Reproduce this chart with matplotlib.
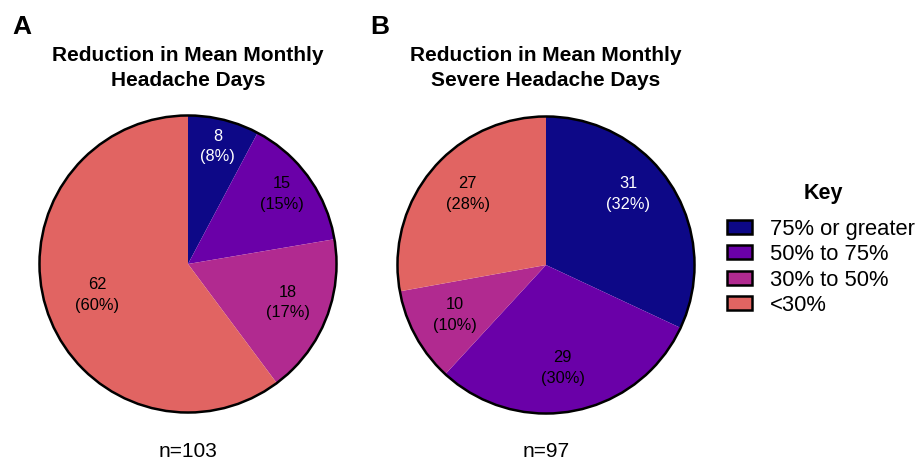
import matplotlib.pyplot as plt
import matplotlib.patches as mpatches

plt.rcParams['font.family'] = ['Liberation Sans', 'DejaVu Sans']

categories = ['75% or greater', '50% to 75%', '30% to 50%', '<30%']
colors = ['#0d0887', '#6a00a8', '#b12a90', '#e16462']

counts_a = [8, 15, 18, 62]
pct_a = ['8%', '15%', '17%', '60%']
counts_b = [31, 29, 10, 27]
pct_b = ['32%', '30%', '10%', '28%']

titles = ['Reduction in Mean Monthly\nHeadache Days',
          'Reduction in Mean Monthly\nSevere Headache Days']
n_labels = ['n=103', 'n=97']
panels = ['A', 'B']

# label placement inside each pie, in units of the pie radius
label_xy_a = [(0.20, 0.79), (0.63, 0.47), (0.67, -0.26), (-0.61, -0.21)]
label_xy_b = [(0.553, 0.477), (0.113, -0.693), (-0.613, -0.337), (-0.527, 0.477)]
text_cols = ['white', 'black', 'black', 'black']

W, H = 919, 461
fig = plt.figure(figsize=(W / 100, H / 100), dpi=100)

centers = [(188, 264), (546, 265)]
R = 150

for i, (counts, pcts, lxy) in enumerate([(counts_a, pct_a, label_xy_a),
                                          (counts_b, pct_b, label_xy_b)]):
    cx, cy = centers[i]
    ax = fig.add_axes([(cx - R) / W, (H - cy - R) / H, 2 * R / W, 2 * R / H])
    ax.pie(counts, colors=colors, startangle=90, counterclock=False,
           radius=1, wedgeprops=dict(linewidth=0))
    ax.add_patch(mpatches.Circle((0, 0), 1, fill=False, ec='black', lw=1.8))
    for j, c in enumerate(counts):
        ax.text(lxy[j][0], lxy[j][1], '{}\n({})'.format(c, pcts[j]),
                ha='center', va='center', fontsize=11.8, color=text_cols[j],
                linespacing=1.45)
    ax.set_xlim(-1.01, 1.01)
    ax.set_ylim(-1.01, 1.01)
    ax.set_aspect('equal')
    ax.axis('off')

    fig.text(cx / W, 1 - 68 / H, titles[i], ha='center', va='center',
             fontsize=15, fontweight='bold', linespacing=1.4)
    fig.text(cx / W, 1 - 451 / H, n_labels[i], ha='center',
             va='center', fontsize=15)

fig.text(22 / W, 1 - 27 / H, panels[0], ha='center', va='center',
         fontsize=19, fontweight='bold')
fig.text(380 / W, 1 - 27 / H, panels[1], ha='center', va='center',
         fontsize=19, fontweight='bold')

# legend
fig.text(823 / W, 1 - 193 / H, 'Key', ha='center', va='center',
         fontsize=15.5, fontweight='bold')
handles = [mpatches.Patch(facecolor=c, edgecolor='black', lw=1.8, label=l)
           for c, l in zip(colors, categories)]
leg = fig.legend(handles=handles, loc='upper left',
                 bbox_to_anchor=(707 / W, 1 - 199 / H), frameon=False,
                 fontsize=15.8, handlelength=1.15,
                 handleheight=0.6, handletextpad=0.8, labelspacing=0.2)

fig.savefig('out.png', dpi=100)
